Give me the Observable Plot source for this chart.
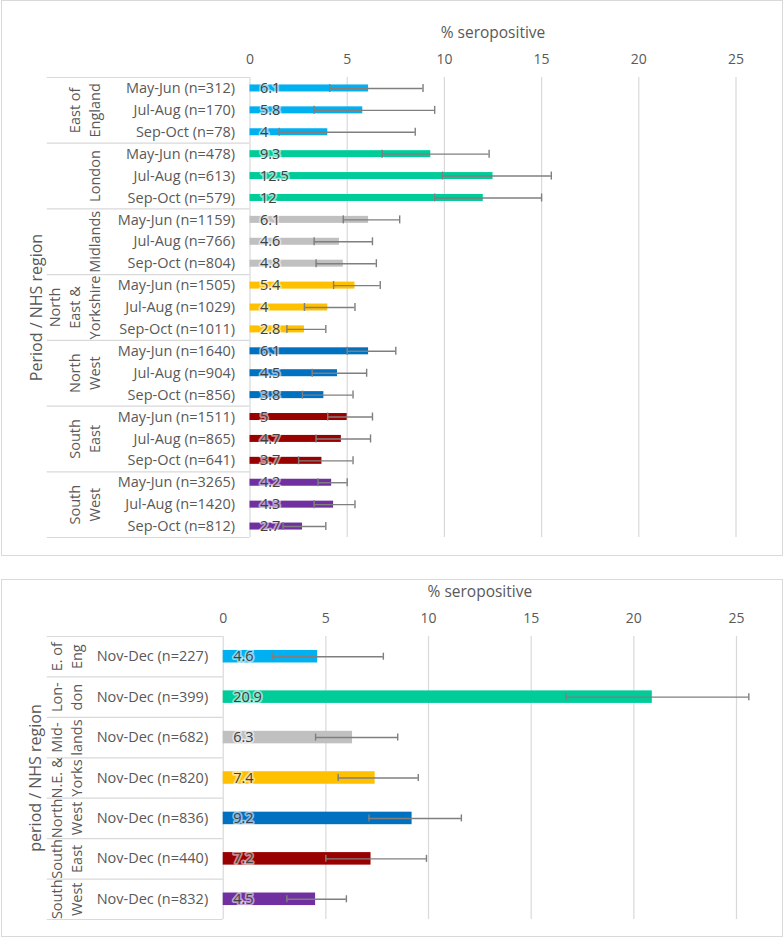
<!DOCTYPE html>
<html><head><meta charset="utf-8">
<script src="https://cdn.jsdelivr.net/npm/d3@7"></script>
<script src="https://cdn.jsdelivr.net/npm/@observablehq/plot@0.6"></script>
<style>
body{margin:0;background:#fff;font-family:"Open Sans",sans-serif;}
.panel{position:absolute;left:1px;width:782px;border:1px solid #d9d9d9;box-sizing:border-box;background:#fff;}
#p1{top:0;height:556px;}
#p2{top:579px;height:358px;}
</style></head><body>
<div id="p1" class="panel"></div><div id="p2" class="panel"></div>
<script>
// ---------- data ----------
const regions = ["East of England","London","Midlands","North East & Yorkshire","North West","South East","South West"];
const regionLines = ["East of\nEngland","London","Midlands","North\nEast &\nYorkshire","North\nWest","South\nEast","South\nWest"];
const regionShort = ["E. of\nEng","Lon-\ndon","Mid-\nlands","N.E. &\nYorks","North\nWest","South\nEast","South\nWest"];
const colors = ["#00b0f0","#00cc99","#c0c0c0","#ffc000","#0070c0","#990000","#7030a0"];
const periods = ["May-Jun","Jul-Aug","Sep-Oct"];
const nTop   = [[312,170,78],[478,613,579],[1159,766,804],[1505,1029,1011],[1640,904,856],[1511,865,641],[3265,1420,812]];
const pctTop = [[6.1,5.8,4],[9.3,12.5,12],[6.1,4.6,4.8],[5.4,4,2.8],[6.1,4.5,3.8],[5,4.7,3.7],[4.2,4.3,2.7]];
const loTop  = [[4.1,3.3,1.5],[6.8,9.9,9.5],[4.8,3.3,3.4],[4.3,2.8,1.9],[5.0,3.2,2.7],[4.0,3.4,2.5],[3.5,3.3,1.7]];
const hiTop  = [[8.9,9.5,8.5],[12.3,15.5,15.0],[7.7,6.3,6.5],[6.7,5.4,3.9],[7.5,6.0,5.3],[6.3,6.2,5.3],[5.0,5.4,3.9]];
const periodNov = "Nov-Dec";
const nNov   = [227,399,682,820,836,440,832];
const pctNov = [4.6,20.9,6.3,7.4,9.2,7.2,4.5];
const loNov  = [2.4,16.7,4.5,5.6,7.1,5.0,3.1];
const hiNov  = [7.8,25.6,8.5,9.5,11.6,9.9,6.0];
const xTicks = [0,5,10,15,20,25];

// ---------- tables ----------
const rowsTop = [];
regions.forEach((r,i)=>periods.forEach((p,j)=>rowsTop.push({
  key:r+"|"+p, region:r, label:`${p} (n=${nTop[i][j]})`,
  pct:pctTop[i][j], lo:loTop[i][j], hi:hiTop[i][j]})));
const groupsTop = regions.map((r,i)=>({region:r, lines:regionLines[i], first:r+"|"+periods[0], mid:r+"|"+periods[1], last:r+"|"+periods[2]}));
const rowsNov = regions.map((r,i)=>({key:r, region:r, lines:regionShort[i], label:`${periodNov} (n=${nNov[i]})`, pct:pctNov[i], lo:loNov[i], hi:hiNov[i]}));

const W = 780;
const grid = "#d9d9d9", txt = "#595959", err = "#7f7f7f";

function chart({rows, groups, width, height, mL, mR, mT, mB, pad, capInset, regionDx, titleDx, yTitle, fontTitle}) {
  const n = rows.length;
  const step = (height - mT - mB) / n;
  const tableLeft = 44.7;
  const frameW = width - mL - mR;
  return Plot.plot({
    width, height, marginLeft: mL, marginRight: mR, marginTop: mT, marginBottom: mB,
    style: {fontFamily: "'Open Sans', sans-serif", fontSize: "14px", color: txt, background: "white", overflow: "visible"},
    x: {domain: [0, 25], axis: null},
    y: {domain: rows.map(d => d.key), paddingInner: pad, paddingOuter: pad / 2, round: false, axis: null},
    color: {domain: regions, range: colors},
    marks: [
      Plot.gridX(xTicks, {stroke: grid, strokeOpacity: 1, strokeWidth: 1.2}),
      Plot.axisX(xTicks, {anchor: "top", tickSize: 0, tickPadding: 14, fontSize: 14, fill: txt, label: null}),
      Plot.text(["% seropositive"], {frameAnchor: "top", dy: -44, lineAnchor: "middle", fontSize: 15.5, fill: txt}),
      // table rules
      Plot.ruleY(groups.map(g => g.first), {y: d => d, dy: -step / 2, stroke: grid, strokeWidth: 1.2, insetLeft: -(mL - tableLeft), insetRight: frameW}),
      Plot.ruleY([rows[n - 1].key], {y: d => d, dy: step / 2, stroke: grid, strokeWidth: 1.2, insetLeft: -(mL - tableLeft), insetRight: frameW}),
      // bars
      Plot.barX(rows, {y: "key", x: "pct", fill: "region"}),
      // error bars
      Plot.ruleY(rows, {y: "key", x1: "lo", x2: "hi", stroke: err, strokeWidth: 1.4}),
      Plot.tickX(rows, {y: "key", x: "lo", stroke: err, strokeWidth: 1.4, insetTop: capInset, insetBottom: capInset}),
      Plot.tickX(rows, {y: "key", x: "hi", stroke: err, strokeWidth: 1.4, insetTop: capInset, insetBottom: capInset}),
      // data labels
      Plot.text(rows, {y: "key", x: 0, text: d => String(d.pct), textAnchor: "start", dx: 10, fill: "#404040", fontSize: 14.5,
        stroke: "white", strokeOpacity: 0.55, strokeWidth: 3.5, paintOrder: "stroke"}),
      // period labels
      Plot.text(rows, {y: "key", text: "label", frameAnchor: "left", dx: -15, textAnchor: "end", fill: txt, fontSize: 14.5}),
      // region labels
      Plot.text(groups, {y: "mid", text: "lines", frameAnchor: "left", dx: regionDx, rotate: -90, textAnchor: "middle", lineAnchor: "bottom", lineHeight: 1.37, fill: txt, fontSize: 14.5}),
      // y title
      Plot.text([yTitle], {frameAnchor: "left", dx: titleDx, rotate: -90, textAnchor: "middle", lineAnchor: "middle", fill: txt, fontSize: fontTitle})
    ]
  });
}

document.getElementById("p1").append(chart({
  rows: rowsTop, groups: groupsTop, width: W, height: 554,
  mL: 247.5, mR: 46.5, mT: 76, mB: 18, pad: 0.68, capInset: -0.5,
  regionDx: -150.5, titleDx: -213.5, yTitle: "Period / NHS region", fontTitle: 16
}));

document.getElementById("p2").append(chart({
  rows: rowsNov, groups: rowsNov.map(d => ({first: d.key, mid: d.key, lines: d.lines})), width: W, height: 356,
  mL: 220.7, mR: 46, mT: 56, mB: 17, pad: 0.69, capInset: 2.75,
  regionDx: -141, titleDx: -187.5, yTitle: "period / NHS region", fontTitle: 16
}));
</script>
</body></html>
